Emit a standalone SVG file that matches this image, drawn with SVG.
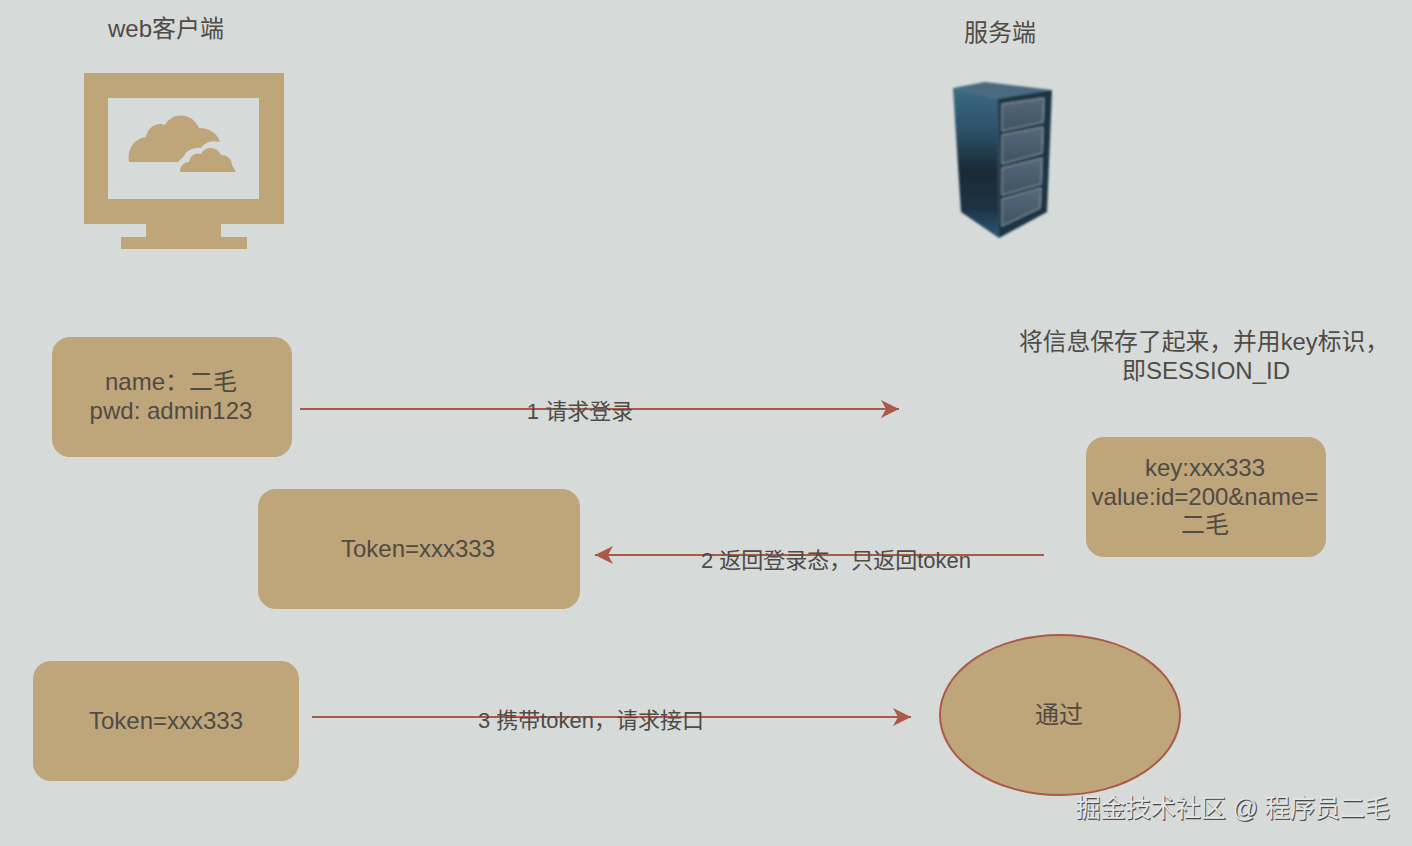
<svg xmlns="http://www.w3.org/2000/svg" width="1412" height="846" viewBox="0 0 1412 846">
<style>
text{font-family:"Liberation Sans","Noto Sans CJK SC",sans-serif;font-size:24px;fill:#4f4b45;text-anchor:middle}
.box{fill:#bfa57a}
.conn{stroke:#ab5a48;stroke-width:2;fill:none}
.wm{fill:#4a4845;stroke:#4a4845;stroke-width:.4px;font-size:25px}
.wm2{fill:#e4e5e5;font-size:25px}
</style>
<defs>
<marker id="a" markerUnits="userSpaceOnUse" markerWidth="20" markerHeight="20" refX="18" refY="10" orient="auto-start-reverse"><path d="M0 1 L18 10 L0 19 L5 10Z" fill="#ab5a48"/></marker>
<linearGradient id="side" x1="0" y1="0" x2="0" y2="1"><stop offset="0" stop-color="#3d6a85"/><stop offset=".3" stop-color="#2c5066"/><stop offset=".55" stop-color="#1a2a36"/><stop offset=".8" stop-color="#1d3342"/><stop offset="1" stop-color="#2c5878"/></linearGradient>
<linearGradient id="front" x1="0" y1="0" x2="0" y2="1"><stop offset="0" stop-color="#56697a"/><stop offset="1" stop-color="#3f5363"/></linearGradient>
<filter id="soft" x="-5%" y="-5%" width="110%" height="110%"><feGaussianBlur stdDeviation=".8"/></filter>
</defs>
<rect width="1412" height="846" fill="#d6dad9"/>
<g id="client">
<text x="166" y="37">web客户端</text>
<path class="box" fill-rule="evenodd" d="M84 73H284V224H221V237H247V249H121V237H146V224H84ZM108 98V199H259V98Z"/>
<path class="box" d="M129 162C127 149 134 139 146 137C148 126 158 122 165 125C172 112 192 112 199 128C210 128 218 134 220 142C211 140 205 143 201 148C193 147 186 151 184 156L178 162Z"/>
<path class="box" d="M180 172C180 166 184 162 189 162C190 155 196 152 201 154C205 146 217 146 221 155C228 155 232 160 232 165L236 172Z"/>
</g>
<g id="server">
<text x="1000" y="41">服务端</text>
<g filter="url(#soft)">
<path d="M953 88L985 82L1052 90L1000 100Z" fill="#4a6a80"/>
<path d="M953 88L998 99L999 238L961 212Z" fill="url(#side)"/>
<path d="M998 99L1052 90L1047 212L999 238Z" fill="#1f3444"/>
<g fill="url(#front)" stroke="#8d9ca6" stroke-width="1">
<path d="M1002 104L1044 98L1043 122L1002 131Z"/>
<path d="M1002 135L1043 127L1042 153L1002 164Z"/>
<path d="M1002 168L1042 158L1041 184L1002 195Z"/>
<path d="M1002 199L1041 188L1040 208L1002 226Z"/>
</g>
</g>
</g>
<g id="login"><rect class="box" x="52" y="337" width="240" height="120" rx="18"/><text x="171" y="390">name：二毛</text><text x="171" y="419">pwd: admin123</text></g>
<g id="token1"><rect class="box" x="258" y="489" width="322" height="120" rx="18"/><text x="418" y="557">Token=xxx333</text></g>
<g id="token2"><rect class="box" x="33" y="661" width="266" height="120" rx="18"/><text x="166" y="729">Token=xxx333</text></g>
<g id="session-note"><text x="1204" y="350" style="font-size:23.8px">将信息保存了起来，并用key标识，</text><text x="1206" y="379">即SESSION_ID</text></g>
<g id="session"><rect class="box" x="1086" y="437" width="240" height="120" rx="18"/><text x="1205" y="476">key:xxx333</text><text x="1205" y="505">value:id=200&amp;name=</text><text x="1205" y="533">二毛</text></g>
<g id="pass"><ellipse cx="1060" cy="715" rx="120" ry="80" fill="#bfa57a" stroke="#ab5a48" stroke-width="2"/><text x="1059" y="723">通过</text></g>
<g id="connectors">
<line class="conn" x1="300" y1="409" x2="899" y2="409" marker-end="url(#a)"/>
<line class="conn" x1="1044" y1="555" x2="595" y2="555" marker-end="url(#a)"/>
<line class="conn" x1="312" y1="717" x2="911" y2="717" marker-end="url(#a)"/>
<text x="580" y="419" style="font-size:22px">1 请求登录</text>
<text x="836" y="568" style="font-size:22px">2 返回登录态，只返回token</text>
<text x="591" y="728" style="font-size:22px">3 携带token，请求接口</text>
</g>
<text class="wm" x="1233.6" y="817.6">掘金技术社区 @ 程序员二毛</text>
<text class="wm2" x="1232.8" y="816.8">掘金技术社区 @ 程序员二毛</text>
</svg>
